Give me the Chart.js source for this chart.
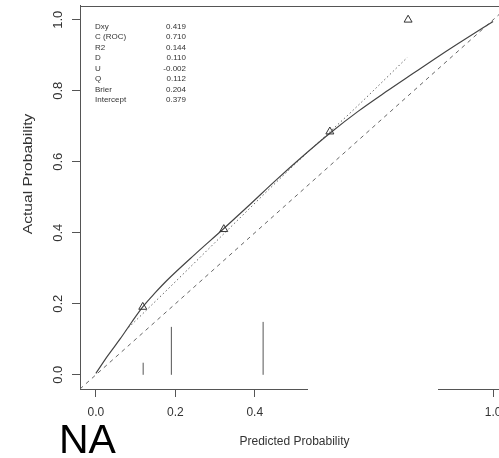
<!DOCTYPE html>
<html><head><meta charset="utf-8">
<script src="https://cdn.jsdelivr.net/npm/chart.js@4"></script>
<style>html,body{margin:0;padding:0;overflow:hidden;background:#fff;width:499px;height:458px}</style>
</head><body>
<canvas id="c" width="520" height="458" style="display:block;width:520px;height:458px"></canvas>
<script>
const xTicks = [0, 0.2, 0.4, 1.0];
const yTicks = [0, 0.2, 0.4, 0.6, 0.8, 1.0];
const idealX = [-0.04, 1.04];
const idealY = [-0.04, 1.04];
const logitX = [0.075, 0.2, 0.35, 0.5, 0.65, 0.784];
const logitY = [0.125, 0.262, 0.428, 0.592, 0.748, 0.894];
const smoothX = [0, 0.03, 0.061, 0.09, 0.117, 0.15, 0.178, 0.25, 0.32, 0.39, 0.45, 0.52, 0.593, 0.66, 0.73, 0.8, 0.865, 0.93, 1.0];
const smoothY = [0.004, 0.054, 0.101, 0.148, 0.19, 0.232, 0.265, 0.34, 0.41, 0.482, 0.545, 0.615, 0.684, 0.742, 0.797, 0.85, 0.899, 0.946, 0.995];
const groupX = [0.118, 0.322, 0.589, 0.786];
const groupY = [0.191, 0.41, 0.685, 1.0];
const spikeX = [0.119, 0.19, 0.421];
const spikeH = [0.034, 0.135, 0.149];
const statLabels = ['Dxy', 'C (ROC)', 'R2', 'D', 'U', 'Q', 'Brier', 'Intercept'];
const statValues = ['0.419', '0.710', '0.144', '0.110', '-0.002', '0.112', '0.204', '0.379'];
const xTitle = 'Predicted Probability';
const yTitle = 'Actual Probability';
const cornerText = 'NA';

const FONT = "'Liberation Sans', Arial, sans-serif";
const zip = (xs, ys) => xs.map((x, i) => ({x: x, y: ys[i]}));
const spikeData = [];
spikeX.forEach((x, i) => { spikeData.push({x: x, y: 0}, {x: x, y: spikeH[i]}, {x: x, y: null}); });

const decor = {
  id: 'decor',
  beforeDraw(chart) {
    const ctx = chart.ctx;
    ctx.save(); ctx.fillStyle = '#fff'; ctx.fillRect(0, 0, chart.width, chart.height); ctx.restore();
  },
  afterDraw(chart) {
    const ctx = chart.ctx, a = chart.chartArea;
    ctx.save();
    ctx.strokeStyle = '#555'; ctx.lineWidth = 1;
    const top = Math.round(a.top) + 0.5, bot = Math.round(a.bottom) + 0.5;
    ctx.beginPath(); ctx.moveTo(a.left, top); ctx.lineTo(a.right, top); ctx.lineTo(a.right, bot); ctx.stroke();
    ctx.beginPath(); ctx.moveTo(a.left, bot); ctx.lineTo(308, bot);
    ctx.moveTo(438, bot); ctx.lineTo(a.right, bot); ctx.stroke();
    ctx.fillStyle = '#333'; ctx.font = '8px ' + FONT; ctx.textBaseline = 'middle';
    statLabels.forEach((t, i) => {
      const y = 26.7 + i * 10.47;
      ctx.textAlign = 'left'; ctx.fillText(t, 95, y);
      ctx.textAlign = 'right'; ctx.fillText(statValues[i], 186, y);
    });
    ctx.save();
    ctx.translate(29, 174); ctx.rotate(-Math.PI / 2); ctx.scale(1.3, 1);
    ctx.font = '12px ' + FONT; ctx.textAlign = 'center'; ctx.textBaseline = 'middle'; ctx.fillStyle = '#333';
    ctx.fillText(yTitle, 0, 0);
    ctx.restore();
    ctx.fillStyle = '#000'; ctx.font = '41px ' + FONT; ctx.textAlign = 'left'; ctx.textBaseline = 'alphabetic';
    ctx.fillText(cornerText, 59, 453);
    ctx.restore();
  }
};

new Chart(document.getElementById('c'), {
  type: 'scatter',
  data: {
    datasets: [
      {data: zip(groupX, groupY), showLine: false, pointStyle: 'triangle', pointRadius: 4.6,
       borderColor: '#333', backgroundColor: 'rgba(0,0,0,0)', borderWidth: 1, pointBorderWidth: 1},
      {data: zip(smoothX, smoothY), showLine: true, pointRadius: 0, borderColor: '#444', borderWidth: 1.2,
       cubicInterpolationMode: 'monotone'},
      {data: zip(logitX, logitY), showLine: true, pointRadius: 0, borderColor: '#666', borderWidth: 1,
       borderDash: [1.5, 2.5], cubicInterpolationMode: 'monotone'},
      {data: zip(idealX, idealY), showLine: true, pointRadius: 0, borderColor: '#666', borderWidth: 1,
       borderDash: [4, 4]},
      {data: spikeData, showLine: true, spanGaps: false, pointRadius: 0, borderColor: '#555', borderWidth: 1}
    ]
  },
  options: {
    responsive: false, animation: false,
    layout: {padding: {top: 5, right: 11, left: 0, bottom: 0}},
    plugins: {legend: {display: false}, tooltip: {enabled: false}},
    scales: {
      x: {
        type: 'linear', min: -0.04, max: 1.04,
        afterBuildTicks: s => { s.ticks = xTicks.map(v => ({value: v})); },
        afterFit: s => { s.height = 69; s.paddingLeft = 0; s.paddingRight = 0; },
        border: {display: false},
        grid: {drawOnChartArea: false, drawTicks: true, tickLength: 8, tickColor: '#555'},
        ticks: {color: '#333', font: {family: FONT, size: 12}, padding: 8, maxRotation: 0,
                callback: v => Number(v).toFixed(1)},
        title: {display: true, text: xTitle, color: '#333', font: {family: FONT, size: 12},
                padding: {top: 4, bottom: 9}}
      },
      y: {
        type: 'linear', min: -0.04, max: 1.04,
        afterBuildTicks: s => { s.ticks = yTicks.map(v => ({value: v})); },
        afterFit: s => { s.width = 80; s.paddingTop = 0; s.paddingBottom = 0; },
        border: {display: true, color: '#555', width: 1},
        grid: {drawOnChartArea: false, drawTicks: true, tickLength: 8, tickColor: '#555'},
        ticks: {color: '#333', font: {family: FONT, size: 13}, padding: 5, minRotation: 90, maxRotation: 90,
                crossAlign: 'center', callback: v => Number(v).toFixed(1)}
      }
    }
  },
  plugins: [decor]
});
</script>
</body></html>
